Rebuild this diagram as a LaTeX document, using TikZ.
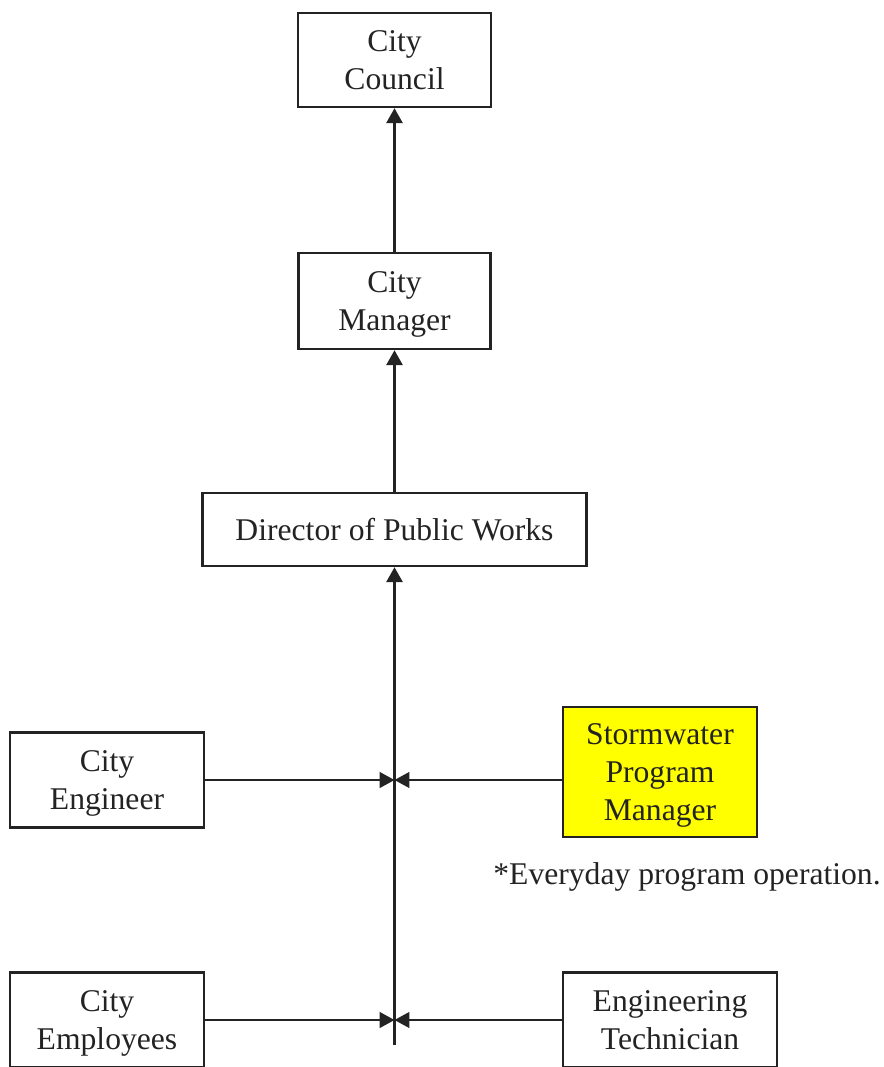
\documentclass[tikz,border=0pt]{standalone}
\usepackage{fontspec}
\setmainfont{Liberation Serif}
\usetikzlibrary{arrows.meta}
\definecolor{ink}{RGB}{35,35,35}
\definecolor{hilite}{RGB}{255,255,0}
\tikzset{
  box/.style={draw=ink, line width=1.3pt, align=center, inner sep=0pt,
    text depth=0pt, text=ink, font=\fontsize{18}{21.5}\selectfont},
  vline/.style={draw=ink, line width=1.7pt},
  hline/.style={draw=ink, line width=1.1pt},
  tip/.style={-{Triangle[length=8.5pt,width=9pt]}}
}
\begin{document}
\begin{tikzpicture}[x=0.02cm,y=-0.02cm]
\useasboundingbox (0,0) rectangle (884,1067);
\node (council) [box, minimum width=3.86cm, minimum height=1.88cm] at (394.5,60) {City\\Council};
\node (manager) [box, minimum width=3.84cm, minimum height=1.92cm] at (394.5,301) {City\\Manager};
\node (director) [box, minimum width=7.68cm, minimum height=1.46cm] at (394.5,529.5) {Director of Public Works};
\node (engineer) [box, minimum width=3.88cm, minimum height=1.9cm] at (107,780) {City\\Engineer};
\node (storm) [box, fill=hilite, minimum width=3.88cm, minimum height=2.6cm] at (660,772) {Stormwater\\Program\\Manager};
\node (note) [text=ink, font=\fontsize{18}{21.5}\selectfont] at (687,877) {*Everyday program operation.};
\node (employees) [box, minimum width=3.88cm, minimum height=1.9cm] at (107,1020) {City\\Employees};
\node (tech) [box, minimum width=4.28cm, minimum height=1.9cm] at (670,1020) {Engineering\\Technician};
\coordinate (j1) at (394.5,780);
\coordinate (j2) at (394.5,1020);
\coordinate (bot) at (394.5,1045);
\draw [vline, tip] (bot) -- (director);
\draw [vline, tip] (director) -- (manager);
\draw [vline, tip] (manager) -- (council);
\draw [hline, tip] (engineer) -- (j1);
\draw [hline, tip] (storm.west |- j1) -- (j1);
\draw [hline, tip] (employees) -- (j2);
\draw [hline, tip] (tech) -- (j2);
\end{tikzpicture}
\end{document}
